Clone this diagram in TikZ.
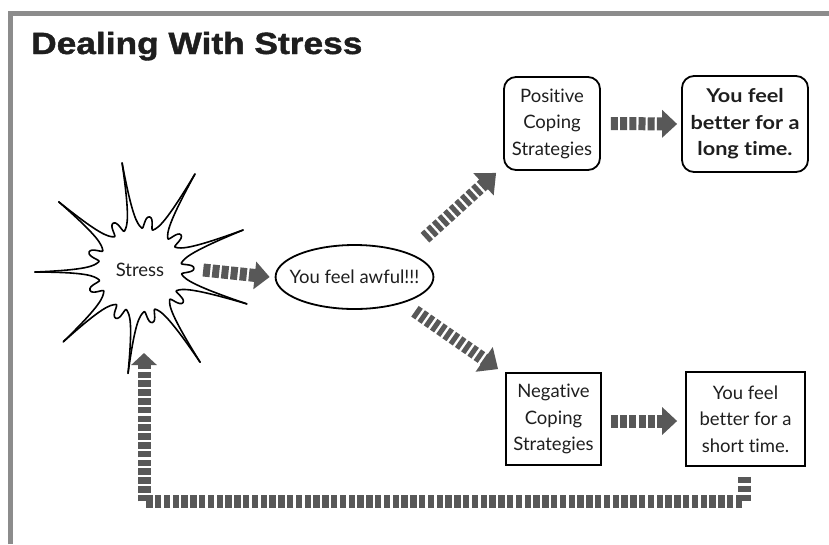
\documentclass[tikz,border=0pt]{standalone}
\usepackage{fontspec}
\usepackage{graphicx}
\setmainfont{Lato}[Ligatures=NoCommon]
\newfontfamily\widebold{Lato}[Ligatures=NoCommon, FakeStretch=1.14]
\newfontfamily\titlefont{Liberation Sans}[BoldFeatures={FakeBold=1.3}]
\usetikzlibrary{arrows.meta,shapes.geometric,calc}
\definecolor{arrowgray}{RGB}{88,88,88}
\definecolor{framegray}{RGB}{140,140,140}
\definecolor{ink}{RGB}{30,30,30}
\begin{document}
\begin{tikzpicture}[x=1pt,y=-1pt,
  txt/.style={font=\fontsize{18.5}{26.5}\selectfont, align=center, text=ink},
  sqbox/.style={txt, draw=black, line width=1.8pt, inner sep=0pt},
  rbox/.style={sqbox, rounded corners=12pt},
  blk/.style={draw=arrowgray, line width=13pt, dash pattern=on 7pt off 2.2pt, -{Triangle[width=27pt,length=15pt]}},
  diagblk/.style={draw=arrowgray, line width=13pt, dash pattern=on 5pt off 2.6pt, -{Triangle[width=29pt,length=17pt]}},
  fbblk/.style={draw=arrowgray, line width=13pt, dash pattern=on 6.5pt off 2.3pt, -{Triangle[width=25pt,length=12pt]}},
]
\useasboundingbox (0,0) rectangle (829,544);
\draw[framegray, line width=5pt] (10,544) -- (10,13) -- (829,13);

\node[anchor=base west, inner sep=0pt, text=ink] (title) at (31,54)
  {\scalebox{1.15}[1]{\titlefont\bfseries\fontsize{30.7}{36}\selectfont Dealing With Stress}};

\node[txt, circle, minimum size=126pt, inner sep=0pt] (burst) at (140,270) {Stress};
\node[txt, ellipse, draw=black, line width=1.8pt, minimum width=157pt, minimum height=64pt,
  inner xsep=-9pt, inner ysep=0pt] (awful) at (354.5,277) {You feel awful!!!};
\node[rbox, minimum width=96pt, minimum height=93pt] (pos) at (552,123.5) {Positive\\Coping\\Strategies};
\node[rbox, minimum width=126pt, minimum height=96pt, font=\widebold\bfseries\fontsize{19}{26.5}\selectfont] (posres) at (745,124) {You feel\\better for a\\long time.};
\node[sqbox, minimum width=95pt, minimum height=92pt] (neg) at (553.5,419) {Negative\\Coping\\Strategies};
\node[sqbox, minimum width=119pt, minimum height=94pt] (negres) at (745.5,419) {You feel\\better for a\\short time.};

% starburst
\begin{scope}[shift={(burst.center)}, line width=1.6pt, line cap=round, line join=round]
\foreach \A/\ra/\B/\rb in {17.6/112/56.9/110, 56.9/110/96.6/104, 96.6/104/136.9/105,
  136.9/105/178.9/105, 178.9/105/220/106, 220/106/260.5/108.5, 260.5/108.5/299.8/110.6,
  299.8/110.6/338.8/110.5, 338.8/110.5/377.6/112}{
  \pgfmathsetmacro\D{\B-\A}
  \draw (\A:\ra) .. controls ({\A+0.03*\D}:{0.5*\ra}) and ({\A+0.15*\D}:46) .. ({\A+0.3*\D}:42)
     .. controls ({\A+0.38*\D}:40) and ({\A+0.36*\D}:54) .. ({\A+0.5*\D}:54)
     .. controls ({\A+0.64*\D}:54) and ({\A+0.62*\D}:40) .. ({\A+0.7*\D}:42)
     .. controls ({\B-0.15*\D}:46) and ({\B-0.03*\D}:{0.5*\rb}) .. (\B:\rb);
}
\end{scope}

% arrows
\draw[blk] (burst.east) -- ([xshift=-5pt]awful.west);
\draw[diagblk] ([xshift=14pt,yshift=16pt]awful.north east) -- ([xshift=-7pt,yshift=-2pt]pos.south west);
\draw[diagblk] ([xshift=4pt,yshift=-11pt]awful.south east) -- ([xshift=-7pt,yshift=3pt]neg.north west);
\draw[blk] ([xshift=10pt]pos.east) -- ([xshift=-4pt]posres.west);
\draw[blk] ([xshift=9pt,yshift=-2pt]neg.east) -- ([xshift=-8pt,yshift=-2pt]negres.west);

\coordinate (fbturn) at (144,501.5);
\coordinate (fbend) at (144,353);
\draw[fbblk] ([xshift=-1.5pt,yshift=-10pt]negres.south) |- (fbturn) -- (fbend);
\end{tikzpicture}
\end{document}
